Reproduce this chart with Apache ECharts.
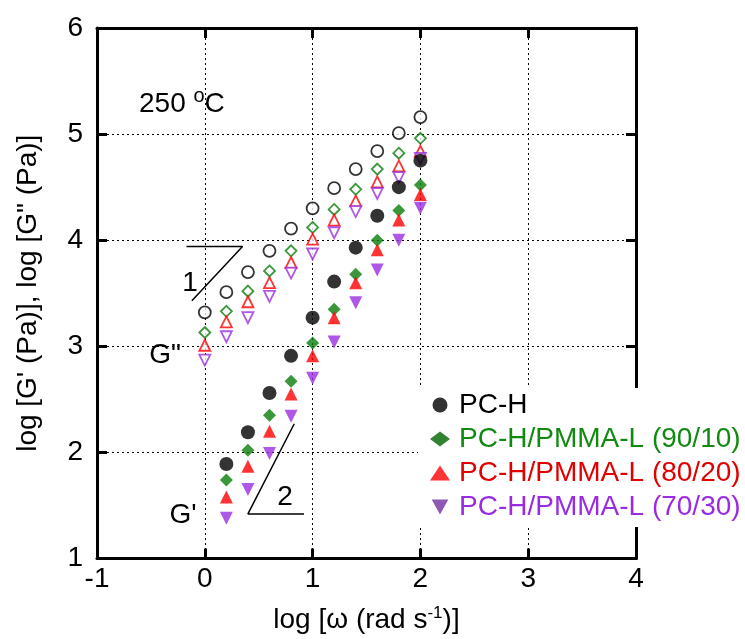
<!DOCTYPE html>
<html><head><meta charset="utf-8">
<script src="https://cdn.jsdelivr.net/npm/echarts@6/dist/echarts.min.js"></script>
<style>html,body{margin:0;padding:0;background:#fff}#c{width:745px;height:639px}</style>
</head><body><div id="c"></div>
<script>
const xG2 = [0, 0.2, 0.4, 0.6, 0.8, 1.0, 1.2, 1.4, 1.6, 1.8, 2.0];
const xG1 = [0.2, 0.4, 0.6, 0.8, 1.0, 1.2, 1.4, 1.6, 1.8, 2.0];
// G'' (open)
const g2_PCH   = [3.32, 3.51, 3.70, 3.90, 4.11, 4.30, 4.49, 4.67, 4.84, 5.01, 5.16];
const g2_9010  = [3.13, 3.33, 3.52, 3.71, 3.90, 4.12, 4.29, 4.48, 4.67, 4.82, 4.96];
const g2_8020  = [3.01, 3.23, 3.42, 3.60, 3.79, 4.01, 4.19, 4.37, 4.55, 4.70, 4.84];
const g2_7030  = [2.87, 3.09, 3.27, 3.47, 3.69, 3.87, 4.07, 4.27, 4.44, 4.59, 4.77];
// G' (filled)
const g1_PCH   = [1.89, 2.19, 2.56, 2.91, 3.27, 3.61, 3.93, 4.23, 4.50, 4.75];
const g1_9010  = [1.74, 2.02, 2.35, 2.67, 3.03, 3.35, 3.68, 4.00, 4.28, 4.52];
const g1_8020  = [1.58, 1.87, 2.20, 2.55, 2.91, 3.27, 3.60, 3.91, 4.19, 4.43];
const g1_7030  = [1.38, 1.65, 1.99, 2.34, 2.70, 3.04, 3.41, 3.72, 4.00, 4.30];
const names = ['PC-H', 'PC-H/PMMA-L (90/10)', 'PC-H/PMMA-L (80/20)', 'PC-H/PMMA-L (70/30)'];
const xTicks = [-1, 0, 1, 2, 3, 4];
const yTicks = [1, 2, 3, 4, 5, 6];
// slope guide triangles (data coords)
const slope1 = [[-0.17, 3.94], [0.35, 3.94], [-0.12, 3.43]];
const slope2 = [[0.83, 2.27], [0.40, 1.42], [0.92, 1.42]];

const colors = ['#000000', '#0a7d0a', '#ff0000', '#9b2de0'];
const legendColors = ['#000000', '#006400', '#ff0000', '#7030a0'];
const textColors = ['#000000', '#108a10', '#e00000', '#9a2be0'];
const downTri = 'path://M0,0 L10,0 L5,9 Z';
const symbols = ['circle', 'diamond', 'triangle', downTri];
const sizes = [14, 13, 13, 13];
const FONT = 'Liberation Sans, Arial, sans-serif';
const FS = 28;

const pair = (xs, ys) => xs.map((x, i) => [x, ys[i]]);
const g2 = [g2_PCH, g2_9010, g2_8020, g2_7030];
const g1 = [g1_PCH, g1_9010, g1_8020, g1_7030];

const series = [];
for (let i = 0; i < 4; i++) {
  series.push({
    name: names[i] + ' G"', type: 'scatter', data: pair(xG2, g2[i]),
    symbol: symbols[i], symbolSize: sizes[i] - 2, z: 3,
    itemStyle: { color: '#fff', borderColor: colors[i], borderWidth: 1.8 }
  });
}
for (let i = 0; i < 4; i++) {
  series.push({
    name: names[i], type: 'scatter', data: pair(xG1, g1[i]),
    symbol: symbols[i], symbolSize: sizes[i], z: 4,
    itemStyle: { color: colors[i] }
  });
}
[slope1, slope2].forEach(s => {
  series.push({
    type: 'line', data: [s[0], s[1], s[2]], symbol: 'none', silent: true,
    lineStyle: { color: '#000', width: 1.5 }, z: 2
  });
});

const gridLine = { show: true, lineStyle: { color: '#000', width: 1, type: [2, 3] } };
const tick = { show: true, inside: true, length: 10, lineStyle: { color: '#000', width: 3 } };
const axLine = { show: true, onZero: false, lineStyle: { color: '#000', width: 3 } };

const chart = echarts.init(document.getElementById('c'));
chart.setOption({
  animation: false,
  backgroundColor: '#fff',
  grid: { left: 97, right: 109, top: 28, bottom: 76, show: false },
  xAxis: [{
    type: 'value', min: xTicks[0], max: xTicks[xTicks.length - 1], interval: 1,
    axisLine: axLine, axisTick: tick, splitLine: gridLine,
    axisLabel: { color: '#000', fontSize: FS, fontFamily: FONT, margin: 7 },
    name: 'log [ω (rad s{sup|-1})]', nameLocation: 'middle', nameGap: 46,
    nameTextStyle: { color: '#000', fontSize: FS, fontFamily: FONT,
      rich: { sup: { fontSize: 17, fontFamily: FONT, color: '#000', padding: [0, 0, 14, 0] } } }
  }, {
    type: 'value', position: 'top', min: -1, max: 4, interval: 1,
    axisLine: axLine, axisTick: tick, splitLine: { show: false }, axisLabel: { show: false }
  }],
  yAxis: [{
    type: 'value', min: yTicks[0], max: yTicks[yTicks.length - 1], interval: 1,
    axisLine: axLine, axisTick: tick, splitLine: gridLine,
    axisLabel: { color: '#000', fontSize: FS, fontFamily: FONT, margin: 14 },
    name: 'log [G\' (Pa)], log [G" (Pa)]', nameLocation: 'middle', nameGap: 55,
    nameTextStyle: { color: '#000', fontSize: FS, fontFamily: FONT }
  }, {
    type: 'value', position: 'right', min: 1, max: 6, interval: 1,
    axisLine: axLine, axisTick: tick, splitLine: { show: false }, axisLabel: { show: false }
  }],
  legend: {
    left: 418, top: 388, orient: 'vertical', itemGap: 6, itemWidth: 20, itemHeight: 15,
    backgroundColor: '#fff', padding: [3, 4, 6, 12], z: 10,
    textStyle: { fontSize: FS, fontFamily: FONT },
    data: names.map((n, i) => ({ name: n, icon: symbols[i], itemStyle: { color: legendColors[i] },
      textStyle: { color: textColors[i], fontSize: FS, fontFamily: FONT, padding: [0, 0, 0, 4] } }))
  },
  graphic: [
    { type: 'text', left: 139, top: 86, style: { text: '250 {sup|o}C', fill: '#000', font: FS + 'px ' + FONT,
      rich: { sup: { fontSize: 20, fontFamily: FONT, fill: '#000', padding: [0, 0, 16, 0] } } } },
    { type: 'text', x: 190, y: 283, style: { text: '1', fill: '#000', font: FS + 'px ' + FONT, align: 'center', verticalAlign: 'middle' } },
    { type: 'text', x: 285, y: 497, style: { text: '2', fill: '#000', font: FS + 'px ' + FONT, align: 'center', verticalAlign: 'middle' } },
    { type: 'text', x: 165, y: 355, style: { text: 'G"', fill: '#000', font: FS + 'px ' + FONT, align: 'center', verticalAlign: 'middle' } },
    { type: 'text', x: 183, y: 515, style: { text: "G'", fill: '#000', font: FS + 'px ' + FONT, align: 'center', verticalAlign: 'middle' } }
  ],
  series: series
});
</script></body></html>
